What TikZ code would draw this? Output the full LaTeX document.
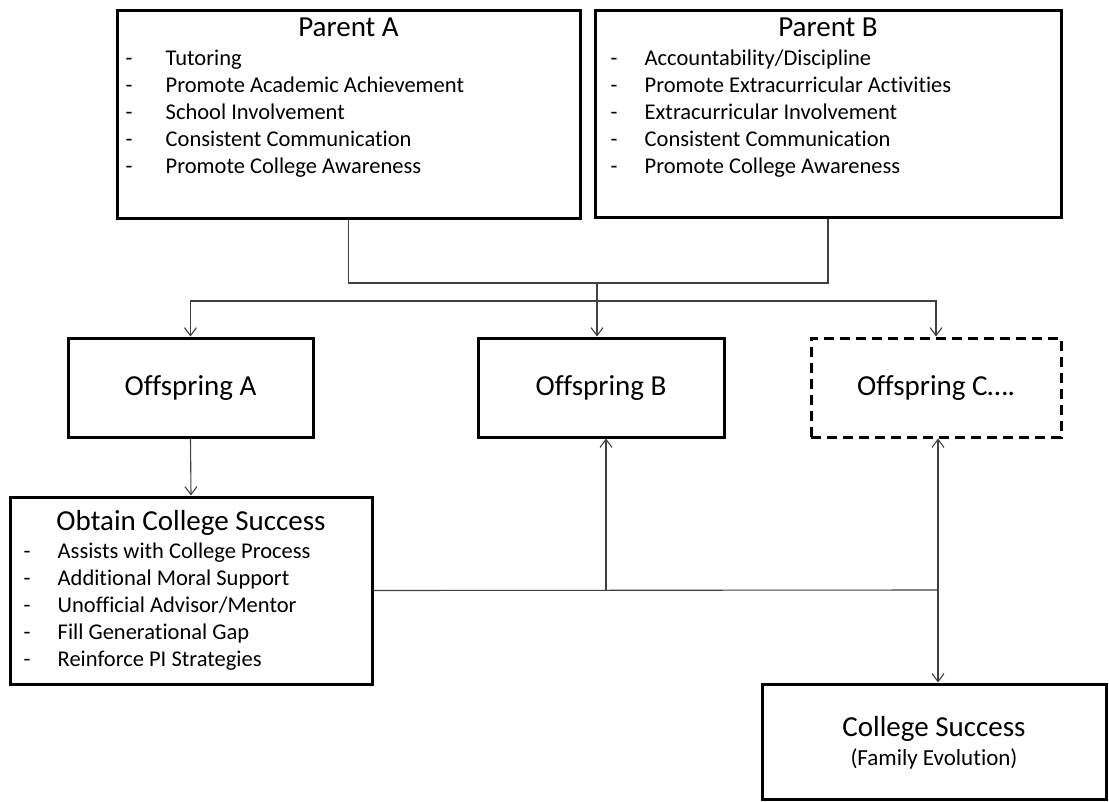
\documentclass[tikz,border=0pt]{standalone}
\usepackage{fontspec}
\setmainfont{Carlito}[Ligatures=NoCommon]
\usetikzlibrary{positioning, arrows.meta}
\tikzstyle{panel} = [rectangle, draw=black, line width=3pt]
\tikzstyle{dashpanel} = [panel, dash pattern=on 10pt off 6pt]
\tikzstyle{heading} = [font=\fontsize{29}{29}\selectfont, inner sep=0pt, align=center]
\tikzstyle{headbox} = [panel, heading, text height=21pt, text depth=6pt]
\tikzstyle{itemlist} = [align=left, font=\fontsize{22.5}{27}\selectfont, inner sep=0pt]
\tikzstyle{link} = [line width=1.1pt, draw=black!75]
\tikzstyle{arrow} = [link, -{Straight Barb[length=8pt,width=12pt]}]
\newcommand{\dashitem}[2][34pt]{\strut\makebox[#1][l]{-}#2}

\begin{document}
\begin{tikzpicture}[x=1pt, y=-1pt]
\useasboundingbox (0,0) rectangle (1109,801);
\node (parentA) [panel, minimum width=463pt, minimum height=208pt] at (348.5,114) {};
\node (parentB) [panel, minimum width=466pt, minimum height=207pt] at (828,113.5) {};
\node (parentAtitle) [heading, below=28pt of parentA.north, anchor=base] {Parent A};
\node (parentBtitle) [heading, below=28pt of parentB.north, anchor=base] {Parent B};
\node (parentAlist) [itemlist, below right=38.1pt and 10pt of parentA.north west] {\dashitem[40pt]{Tutoring}\\ \dashitem[40pt]{Promote Academic Achievement}\\ \dashitem[40pt]{School Involvement}\\ \dashitem[40pt]{Consistent Communication}\\ \dashitem[40pt]{Promote College Awareness}};
\node (parentBlist) [itemlist, below right=38.1pt and 17pt of parentB.north west] {\dashitem{Accountability/Discipline}\\ \dashitem{Promote Extracurricular Activities}\\ \dashitem{Extracurricular Involvement}\\ \dashitem{Consistent Communication}\\ \dashitem{Promote College Awareness}};

\node (offA) [headbox, minimum width=245pt, minimum height=99pt] at (190.5,387.5) {Offspring A};
\node (offB) [headbox, minimum width=246pt, minimum height=99pt] at (601,387.5) {Offspring B};
\node (offC) [headbox, dashpanel, minimum width=250pt, minimum height=99pt] at (936,387.5) {Offspring C\dots.};

\node (obtain) [panel, minimum width=362pt, minimum height=187pt] at (191,590.5) {};
\node (obtaintitle) [heading, below=35pt of obtain.north, anchor=base] {Obtain College Success};
\node (obtainlist) [itemlist, below right=44.1pt and 15pt of obtain.north west] {\dashitem{Assists with College Process}\\ \dashitem{Additional Moral Support}\\ \dashitem{Unofficial Advisor/Mentor}\\ \dashitem{Fill Generational Gap}\\ \dashitem{Reinforce PI Strategies}};

\node (college) [panel, heading, minimum width=344pt, minimum height=115pt] at (934,741.5) {};
\node (collegetitle) [heading, below=54pt of college.north, anchor=base] {College Success};
\node (collegenote) [heading, below=83pt of college.north, anchor=base, font=\fontsize{23}{23}\selectfont] {(Family Evolution)};

\coordinate (parentsJoin) at (597,283);
\coordinate (splitRow) at (597,301);
\coordinate (bridgeB) at (606,590);
\coordinate (bridgeC) at (938,590);
\draw [link] (parentA.south) |- (parentsJoin) -| (parentB.south);
\draw [arrow] (parentsJoin) -- (parentsJoin |- offB.north);
\draw [arrow] (splitRow) -| (offA.north);
\draw [arrow] (splitRow) -| (offC.north);
\draw [arrow] (offA.south) -- (obtain.north);
\draw [link] (obtain.east) -- (bridgeC);
\draw [arrow] (bridgeB) -- (bridgeB |- offB.south);
\draw [arrow] (bridgeC) -- (bridgeC |- offC.south);
\draw [arrow] (bridgeC) -- (bridgeC |- college.north);
\end{tikzpicture}
\end{document}
